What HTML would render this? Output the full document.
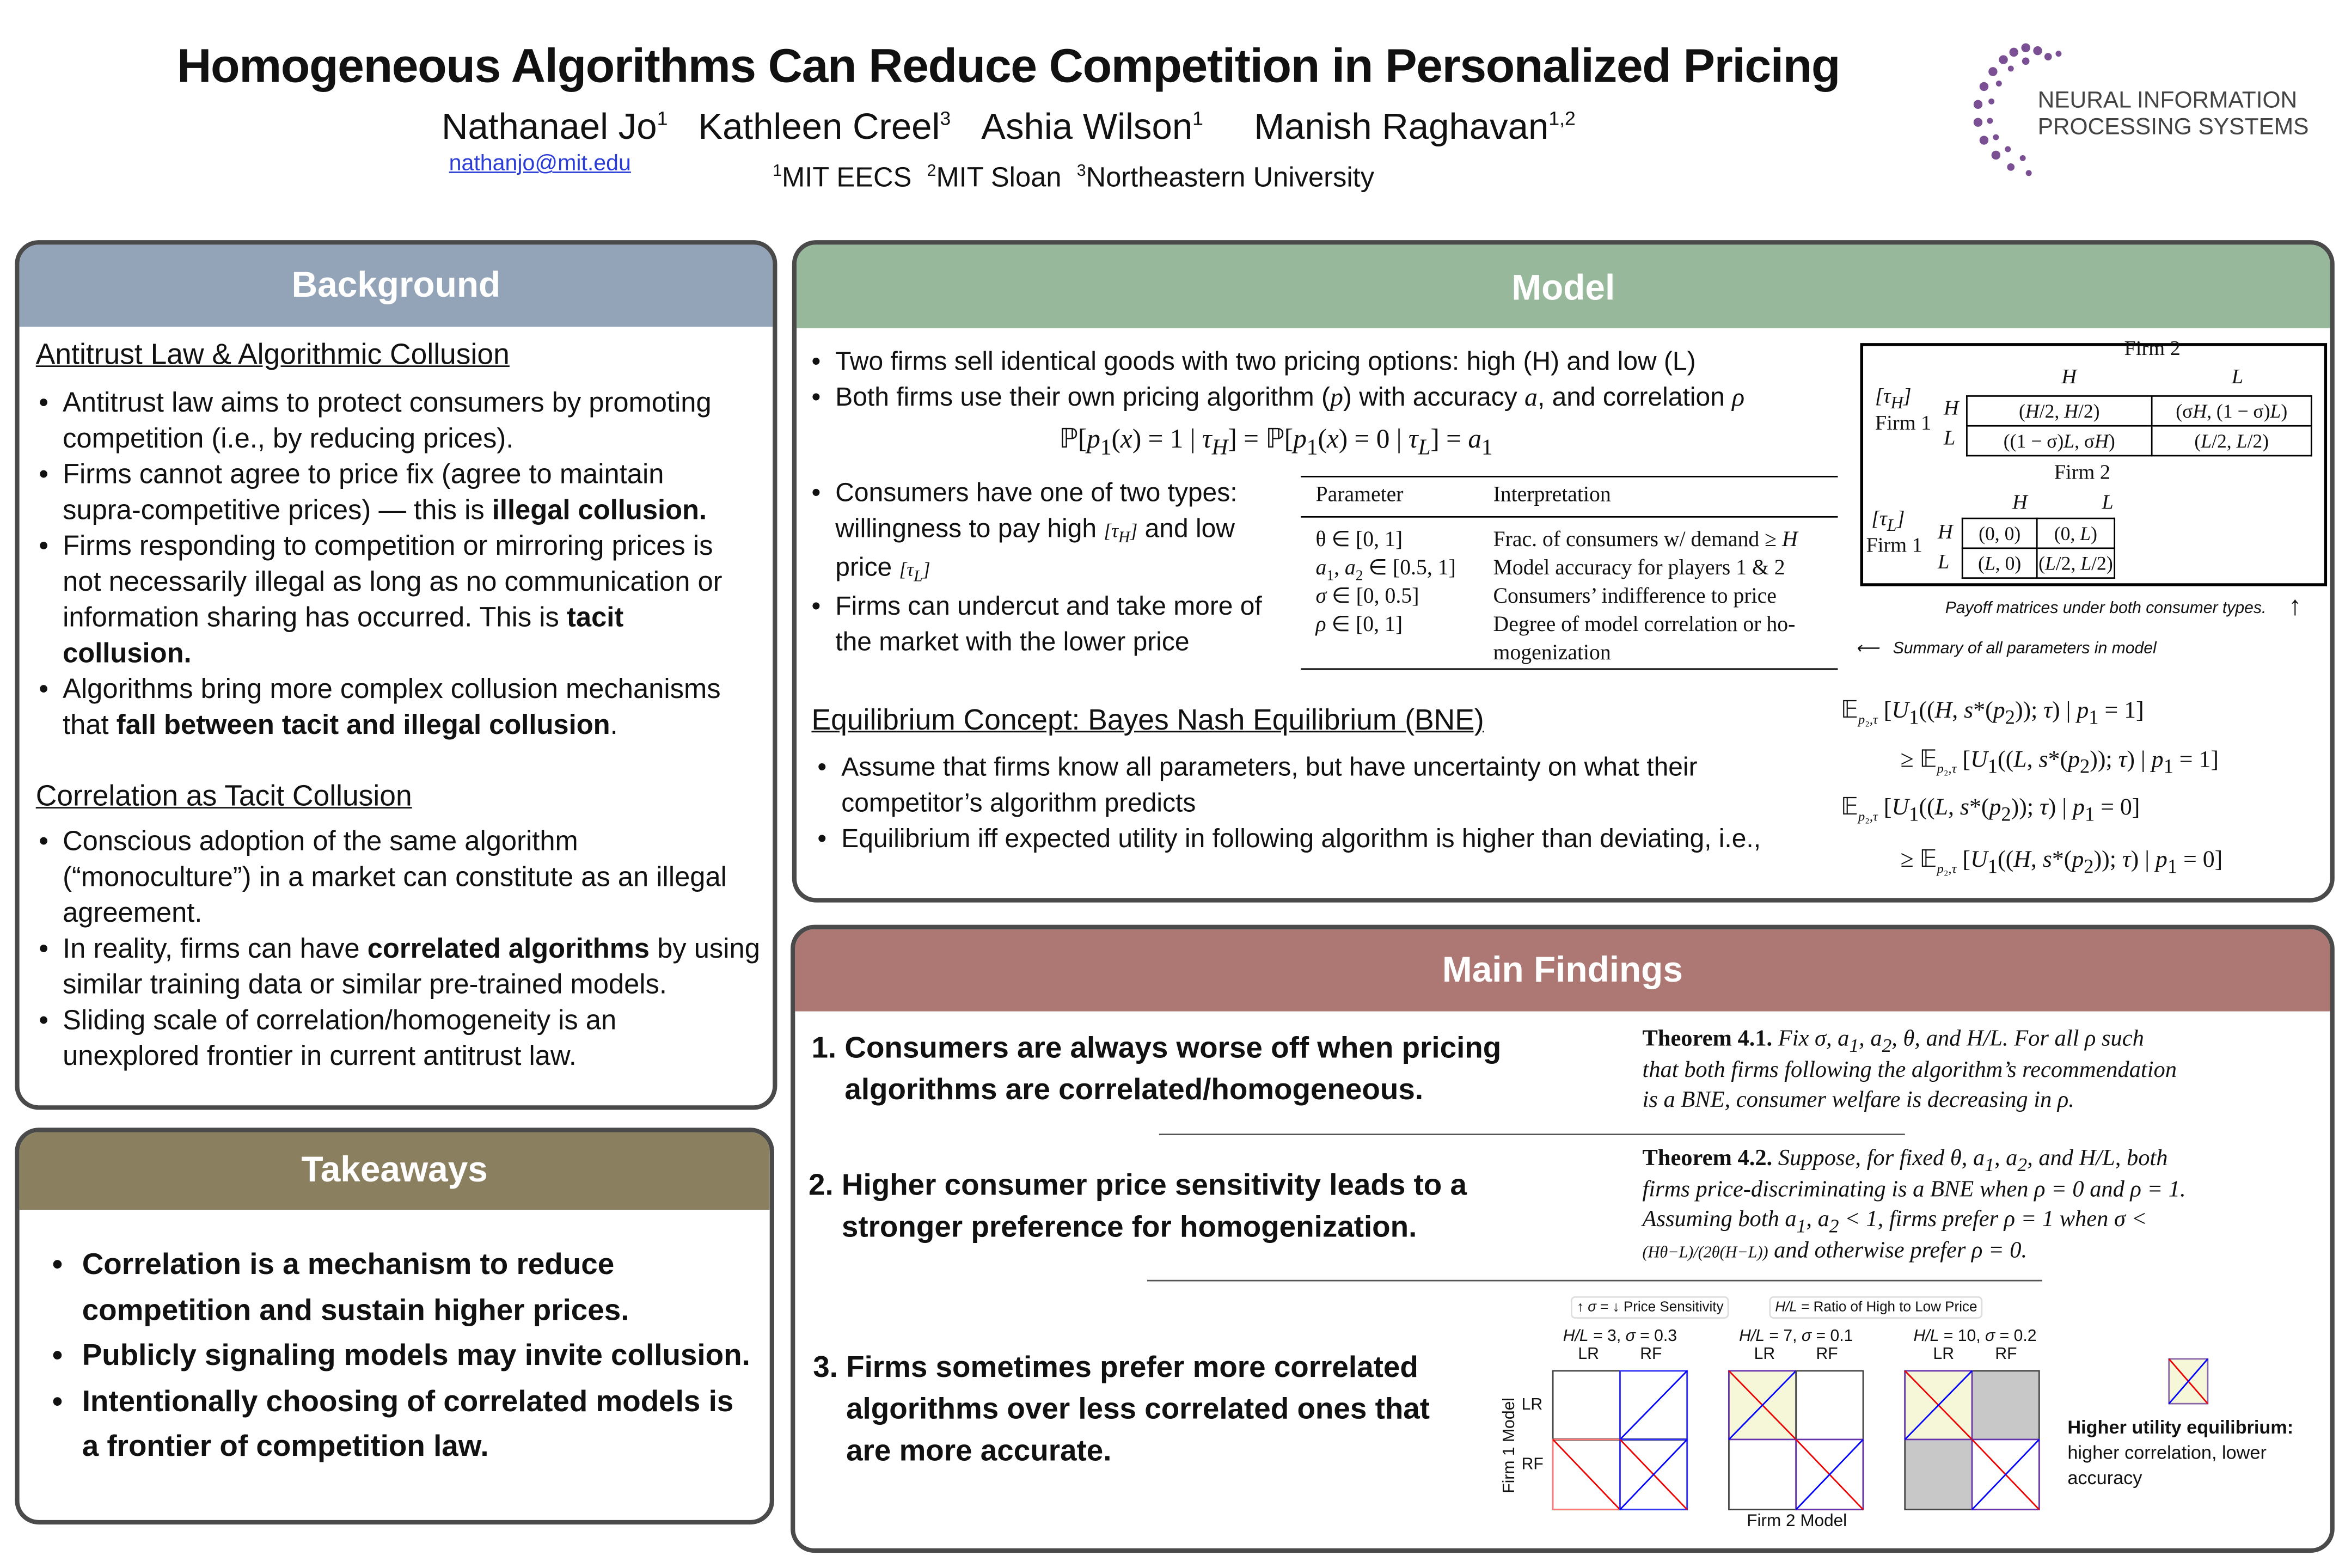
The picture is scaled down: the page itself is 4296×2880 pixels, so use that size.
<!DOCTYPE html>
<html><head><meta charset="utf-8"><style>
*{margin:0;padding:0;box-sizing:border-box}
body{width:4296px;height:2880px;overflow:hidden;background:#fff}
#s{position:absolute;left:0;top:0;width:1568px;height:1051px;transform:scale(2.7398);transform-origin:0 0;font-family:"Liberation Sans",sans-serif;color:#111}
.a{position:absolute}
sub,sup{line-height:0}
.panel{position:absolute;border:3px solid #4a4a4a;border-radius:16px;overflow:hidden;background:#fff}
.hd{position:absolute;left:0;right:0;top:0;color:#fff;font-weight:bold;font-size:24px;text-align:center}
ul{list-style:none}
li{position:relative;padding-left:18px;white-space:nowrap}
li:before{content:"•";position:absolute;left:2px}
.ser{font-family:"Liberation Serif",serif}
.m{font-family:"Liberation Serif",serif;font-style:italic}
u{text-decoration:underline}
table{border-collapse:collapse}
.eq{position:absolute;white-space:nowrap;font-family:"Liberation Serif",serif;font-size:16px;line-height:20px}
</style></head><body><div id="s">
<div class="a" style="left:0;width:1352px;top:26px;text-align:center;font-size:32px;font-weight:bold;letter-spacing:-0.5px">Homogeneous Algorithms Can Reduce Competition in Personalized Pricing</div>
<div class="a" style="left:296px;top:72px;font-size:24.5px;white-space:nowrap">Nathanael Jo<sup style="font-size:13px">1</sup>&nbsp;&nbsp;&nbsp;Kathleen Creel<sup style="font-size:13px">3</sup>&nbsp;&nbsp;&nbsp;Ashia Wilson<sup style="font-size:13px">1</sup>&nbsp;&nbsp;&nbsp;&nbsp;&nbsp;Manish Raghavan<sup style="font-size:13px">1,2</sup></div>
<div class="a" style="left:301px;top:101px;font-size:15px;color:#2a3bd6;text-decoration:underline">nathanjo@mit.edu</div>
<div class="a" style="left:518px;top:108px;font-size:18.5px;white-space:nowrap"><sup style="font-size:11px">1</sup>MIT EECS &nbsp;<sup style="font-size:11px">2</sup>MIT Sloan &nbsp;<sup style="font-size:11px">3</sup>Northeastern University</div>
<svg class="a" style="left:1318px;top:26px" width="70" height="100">
<g fill="#7a4f93">
<circle cx="40" cy="6" r="3"/><circle cx="48" cy="8" r="3"/><circle cx="32" cy="9" r="3"/><circle cx="55" cy="12" r="2.5"/><circle cx="25" cy="14" r="3"/><circle cx="40" cy="15" r="2.5"/><circle cx="18" cy="22" r="3"/><circle cx="30" cy="20" r="2"/><circle cx="12" cy="32" r="3"/><circle cx="22" cy="30" r="2"/><circle cx="8" cy="44" r="3"/><circle cx="17" cy="42" r="2"/><circle cx="8" cy="56" r="3"/><circle cx="16" cy="55" r="2"/><circle cx="12" cy="68" r="3"/><circle cx="20" cy="66" r="2"/><circle cx="20" cy="78" r="3"/><circle cx="28" cy="74" r="2"/><circle cx="30" cy="86" r="2.5"/><circle cx="38" cy="80" r="2"/><circle cx="42" cy="90" r="2"/><circle cx="62" cy="10" r="2"/></g></svg>
<div class="a" style="left:1366px;top:59px;font-size:15.5px;line-height:18px;color:#444">NEURAL INFORMATION<br>PROCESSING SYSTEMS</div>

<div class="panel" style="left:10px;top:161px;width:511px;height:583px">
<div class="hd" style="height:55px;line-height:55px;background:#93a3b8">Background</div>
<div class="a" style="left:11px;top:62px;width:490px;font-size:18.5px;line-height:24px">
<div style="font-size:19.5px"><u>Antitrust Law &amp; Algorithmic Collusion</u></div>
<ul style="margin-top:8px">
<li>Antitrust law aims to protect consumers by promoting<br>competition (i.e., by reducing prices).</li>
<li>Firms cannot agree to price fix (agree to maintain<br>supra-competitive prices) — this is <b>illegal collusion.</b></li>
<li>Firms responding to competition or mirroring prices is<br>not necessarily illegal as long as no communication or<br>information sharing has occurred. This is <b>tacit<br>collusion.</b></li>
<li>Algorithms bring more complex collusion mechanisms<br>that <b>fall between tacit and illegal collusion</b>.</li>
</ul>
<div style="font-size:19.5px;margin-top:24px"><u>Correlation as Tacit Collusion</u></div>
<ul style="margin-top:6px">
<li>Conscious adoption of the same algorithm<br>(“monoculture”) in a market can constitute as an illegal<br>agreement.</li>
<li>In reality, firms can have <b>correlated algorithms</b> by using<br>similar training data or similar pre-trained models.</li>
<li>Sliding scale of correlation/homogeneity is an<br>unexplored frontier in current antitrust law.</li>
</ul></div></div>

<div class="panel" style="left:10px;top:756px;width:509px;height:266px">
<div class="hd" style="height:52px;line-height:52px;background:#8a8060">Takeaways</div>
<ul class="a" style="left:20px;top:74px;width:480px;font-size:20px;line-height:30.5px;font-weight:bold">
<li style="padding-left:22px">Correlation is a mechanism to reduce<br>competition and sustain higher prices.</li>
<li style="padding-left:22px">Publicly signaling models may invite collusion.</li>
<li style="padding-left:22px">Intentionally choosing of correlated models is<br>a frontier of competition law.</li>
</ul></div>

<div class="panel" style="left:531px;top:161px;width:1034px;height:444px">
<div class="hd" style="height:56px;line-height:60px;background:#97b89a">Model</div>
<ul class="a" style="left:8px;top:66px;width:700px;font-size:17.5px;line-height:24px">
<li>Two firms sell identical goods with two pricing options: high (H) and low (L)</li>
<li>Both firms use their own pricing algorithm (<span class="m">p</span>) with accuracy <span class="m">a</span>, and correlation <span class="m">ρ</span></li></ul>
<div class="a ser" style="left:176px;top:120px;font-size:18px">ℙ[<span class="m">p</span><sub>1</sub>(<span class="m">x</span>) = 1 | <span class="m">τ<sub>H</sub></span>] = ℙ[<span class="m">p</span><sub>1</sub>(<span class="m">x</span>) = 0 | <span class="m">τ<sub>L</sub></span>] = <span class="m">a</span><sub>1</sub></div>
<ul class="a" style="left:8px;top:154px;width:330px;font-size:17.5px;line-height:24px">
<li>Consumers have one of two types:<br>willingness to pay high <span class="m" style="font-size:13px">[τ<sub>H</sub>]</span> and low<br>price <span class="m" style="font-size:13px">[τ<sub>L</sub>]</span></li>
<li>Firms can undercut and take more of<br>the market with the lower price</li></ul>
<div class="a ser" style="left:338px;top:155px;width:360px;font-size:14.5px;line-height:19px">
<div style="border-top:1.5px solid #000;border-bottom:1px solid #000;padding:3px 6px;height:28px"><span style="position:absolute;left:10px">Parameter</span><span style="position:absolute;left:129px">Interpretation</span></div>
<div style="position:relative;height:102px;border-bottom:1.5px solid #000;padding-top:5px">
<div style="position:absolute;left:10px;top:6px">θ ∈ [0, 1]<br><i>a</i><sub style="font-size:10px">1</sub>, <i>a</i><sub style="font-size:10px">2</sub> ∈ [0.5, 1]<br><i>σ</i> ∈ [0, 0.5]<br><i>ρ</i> ∈ [0, 1]</div>
<div style="position:absolute;left:129px;top:6px;width:230px">Frac. of consumers w/ demand ≥ <i>H</i><br>Model accuracy for players 1 &amp; 2<br>Consumers’ indifference to price<br>Degree of model correlation or ho-<br>mogenization</div></div></div>
<div class="a" style="left:10px;top:308px;font-size:19.5px"><u>Equilibrium Concept: Bayes Nash Equilibrium (BNE)</u></div>
<ul class="a" style="left:12px;top:338px;width:680px;font-size:17.5px;line-height:24px">
<li>Assume that firms know all parameters, but have uncertainty on what their<br>competitor’s algorithm predicts</li>
<li>Equilibrium iff expected utility in following algorithm is higher than deviating, i.e.,</li></ul>
<div class="eq" style="left:700px;top:303px">𝔼<sub style="font-size:9px"><i>p</i>₂,<i>τ</i></sub> [<i>U</i><sub>1</sub>((<i>H</i>, <i>s</i>*(<i>p</i><sub>2</sub>)); <i>τ</i>) | <i>p</i><sub>1</sub> = 1]</div>
<div class="eq" style="left:740px;top:336px">≥ 𝔼<sub style="font-size:9px"><i>p</i>₂,<i>τ</i></sub> [<i>U</i><sub>1</sub>((<i>L</i>, <i>s</i>*(<i>p</i><sub>2</sub>)); <i>τ</i>) | <i>p</i><sub>1</sub> = 1]</div>
<div class="eq" style="left:700px;top:368px">𝔼<sub style="font-size:9px"><i>p</i>₂,<i>τ</i></sub> [<i>U</i><sub>1</sub>((<i>L</i>, <i>s</i>*(<i>p</i><sub>2</sub>)); <i>τ</i>) | <i>p</i><sub>1</sub> = 0]</div>
<div class="eq" style="left:740px;top:403px">≥ 𝔼<sub style="font-size:9px"><i>p</i>₂,<i>τ</i></sub> [<i>U</i><sub>1</sub>((<i>H</i>, <i>s</i>*(<i>p</i><sub>2</sub>)); <i>τ</i>) | <i>p</i><sub>1</sub> = 0]</div>
<div class="a ser" style="left:713px;top:66px;width:313px;height:163px;border:2px solid #000;font-size:14px">
<div class="a" style="left:175px;top:-5px">Firm 2</div>
<div class="a m" style="left:133px;top:14px">H</div><div class="a m" style="left:247px;top:14px">L</div>
<div class="a" style="left:8px;top:26px;line-height:18px"><i>[τ<sub>H</sub>]</i><br>Firm 1</div>
<div class="a m" style="left:54px;top:35px">H</div><div class="a m" style="left:54px;top:55px">L</div>
<table class="a" style="left:69px;top:33px;font-size:13px;text-align:center"><tr><td style="border:1px solid #000;width:124px;height:20px">(<i>H</i>/2, <i>H</i>/2)</td><td style="border:1px solid #000;width:107px">(σ<i>H</i>, (1 − σ)<i>L</i>)</td></tr><tr><td style="border:1px solid #000;height:20px">((1 − σ)<i>L</i>, σ<i>H</i>)</td><td style="border:1px solid #000">(<i>L</i>/2, <i>L</i>/2)</td></tr></table>
<div class="a" style="left:128px;top:78px">Firm 2</div>
<div class="a m" style="left:100px;top:98px">H</div><div class="a m" style="left:160px;top:98px">L</div>
<div class="a" style="left:2px;top:108px;line-height:18px"><i>&nbsp;[τ<sub>L</sub>]</i><br>Firm 1</div>
<div class="a m" style="left:50px;top:118px">H</div><div class="a m" style="left:50px;top:138px">L</div>
<table class="a" style="left:66px;top:115px;font-size:13px;text-align:center"><tr><td style="border:1px solid #000;width:50px;height:20px">(0, 0)</td><td style="border:1px solid #000;width:52px">(0, <i>L</i>)</td></tr><tr><td style="border:1px solid #000;height:20px">(<i>L</i>, 0)</td><td style="border:1px solid #000">(<i>L</i>/2, <i>L</i>/2)</td></tr></table></div>
<div class="a" style="left:770px;top:238px;font-size:11px;font-style:italic">Payoff matrices under both consumer types.</div>
<div class="a" style="left:1000px;top:232px;font-size:18px">↑</div>
<div class="a" style="left:710px;top:264px;font-size:11px;font-style:italic">⟵&nbsp;&nbsp; Summary of all parameters in model</div>
</div>

<div class="panel" style="left:530px;top:620px;width:1035px;height:421px">
<div class="hd" style="height:55px;line-height:55px;background:#ad7773">Main Findings</div>
<div class="a" style="left:11px;top:66px;width:500px;font-size:20px;line-height:28px;font-weight:bold;white-space:nowrap">1. Consumers are always worse off when pricing<br>&nbsp;&nbsp;&nbsp;&nbsp;algorithms are correlated/homogeneous.</div>
<div class="a" style="left:9px;top:158px;width:500px;font-size:20px;line-height:28px;font-weight:bold;white-space:nowrap">2. Higher consumer price sensitivity leads to a<br>&nbsp;&nbsp;&nbsp;&nbsp;stronger preference for homogenization.</div>
<div class="a" style="left:12px;top:280px;width:460px;font-size:20px;line-height:28px;font-weight:bold;white-space:nowrap">3. Firms sometimes prefer more correlated<br>&nbsp;&nbsp;&nbsp;&nbsp;algorithms over less correlated ones that<br>&nbsp;&nbsp;&nbsp;&nbsp;are more accurate.</div>
<div class="a ser" style="left:568px;top:64px;width:440px;font-size:15.5px;line-height:20.5px;font-style:italic;white-space:nowrap"><b style="font-style:normal">Theorem 4.1.</b> Fix σ, a<sub>1</sub>, a<sub>2</sub>, θ, and H/L. For all ρ such<br>that both firms following the algorithm’s recommendation<br>is a BNE, consumer welfare is decreasing in ρ.</div>
<div class="a" style="left:244px;top:137px;width:500px;border-top:1.5px solid #555"></div>
<div class="a ser" style="left:568px;top:144px;width:440px;font-size:15.5px;line-height:20.5px;font-style:italic;white-space:nowrap"><b style="font-style:normal">Theorem 4.2.</b> Suppose, for fixed θ, a<sub>1</sub>, a<sub>2</sub>, and H/L, both<br>firms price-discriminating is a BNE when ρ = 0 and ρ = 1.<br>Assuming both a<sub>1</sub>, a<sub>2</sub> &lt; 1, firms prefer ρ = 1 when σ &lt;<br><span style="font-size:11px">(Hθ−L)/(2θ(H−L))</span> and otherwise prefer ρ = 0.</div>
<div class="a" style="left:236px;top:235px;width:600px;border-top:1.5px solid #555"></div>
<div class="a" style="left:520px;top:246px;font-size:9.5px;border:1px solid #ddd;border-radius:3px;padding:1px 3px">↑ <i>σ</i> = ↓ Price Sensitivity</div>
<div class="a" style="left:653px;top:246px;font-size:9.5px;border:1px solid #ddd;border-radius:3px;padding:1px 3px"><i>H/L</i> = Ratio of High to Low Price</div>
<div class="a" style="left:503px;top:267px;font-size:11px;width:100px;text-align:center;line-height:12px"><i>H/L</i> = 3, <i>σ</i> = 0.3<br>LR&nbsp;&nbsp;&nbsp;&nbsp;&nbsp;&nbsp;&nbsp;&nbsp;&nbsp;RF</div>
<div class="a" style="left:621px;top:267px;font-size:11px;width:100px;text-align:center;line-height:12px"><i>H/L</i> = 7, <i>σ</i> = 0.1<br>LR&nbsp;&nbsp;&nbsp;&nbsp;&nbsp;&nbsp;&nbsp;&nbsp;&nbsp;RF</div>
<div class="a" style="left:736px;top:267px;font-size:11px;width:110px;text-align:center;line-height:12px"><i>H/L</i> = 10, <i>σ</i> = 0.2<br>LR&nbsp;&nbsp;&nbsp;&nbsp;&nbsp;&nbsp;&nbsp;&nbsp;&nbsp;RF</div>
<div class="a" style="left:444px;top:340px;font-size:11px;transform:rotate(-90deg);width:70px;text-align:center">Firm 1 Model</div>
<div class="a" style="left:487px;top:313px;font-size:11px">LR</div><div class="a" style="left:487px;top:353px;font-size:11px">RF</div>
<div class="a" style="left:638px;top:391px;font-size:11.5px">Firm 2 Model</div>
<svg class="a" style="left:506px;top:295px" width="330" height="95" viewBox="0 0 330 95">
<g fill="none" stroke-width="1">
<rect x="2" y="1" width="90" height="93" stroke="#444"/>
<line x1="2" y1="47" x2="92" y2="47" stroke="#444" stroke-width="1.5"/><line x1="47" y1="1" x2="47" y2="94" stroke="#444"/>
<rect x="47" y="1" width="45" height="46" stroke="#33f"/><line x1="47" y1="47" x2="92" y2="1" stroke="#00f"/>
<rect x="2" y="47" width="45" height="47" stroke="#f77"/><line x1="2" y1="47" x2="47" y2="94" stroke="#e00"/>
<rect x="47" y="47" width="45" height="47" stroke="#33f"/><line x1="47" y1="47" x2="92" y2="94" stroke="#e00"/><line x1="47" y1="94" x2="92" y2="47" stroke="#00f"/>
</g>
<g transform="translate(118,0)" fill="none">
<rect x="2" y="1" width="90" height="93" stroke="#444"/>
<rect x="2" y="1" width="45" height="46" fill="#f5f7d8" stroke="#63a"/><line x1="2" y1="1" x2="47" y2="47" stroke="#e00"/><line x1="2" y1="47" x2="47" y2="1" stroke="#00f"/>
<line x1="47" y1="1" x2="47" y2="94" stroke="#444"/>
<rect x="47" y="47" width="45" height="47" stroke="#63a"/><line x1="47" y1="47" x2="92" y2="94" stroke="#e00"/><line x1="47" y1="94" x2="92" y2="47" stroke="#00f"/>
</g>
<g transform="translate(236,0)" fill="none">
<rect x="47" y="1" width="45" height="46" fill="#c8c8c8"/><rect x="2" y="47" width="45" height="47" fill="#c8c8c8"/>
<rect x="2" y="1" width="90" height="93" stroke="#444"/>
<rect x="2" y="1" width="45" height="46" fill="#f5f7d8" stroke="#63a"/><line x1="2" y1="1" x2="47" y2="47" stroke="#e00"/><line x1="2" y1="47" x2="47" y2="1" stroke="#00f"/>
<rect x="47" y="47" width="45" height="47" fill="#fff" stroke="#63a"/><line x1="47" y1="47" x2="92" y2="94" stroke="#e00"/><line x1="47" y1="94" x2="92" y2="47" stroke="#00f"/>
</g></svg>
<svg class="a" style="left:920px;top:287px" width="28" height="32"><rect x="1" y="1" width="26" height="30" fill="#f5f7d8" stroke="#86a"/><line x1="1" y1="1" x2="27" y2="31" stroke="#e00"/><line x1="1" y1="31" x2="27" y2="1" stroke="#00f"/></svg>
<div class="a" style="left:853px;top:326px;font-size:12.5px;line-height:17px;width:175px"><b>Higher utility equilibrium:</b><br>higher correlation, lower accuracy</div>
</div>
</div></body></html>
